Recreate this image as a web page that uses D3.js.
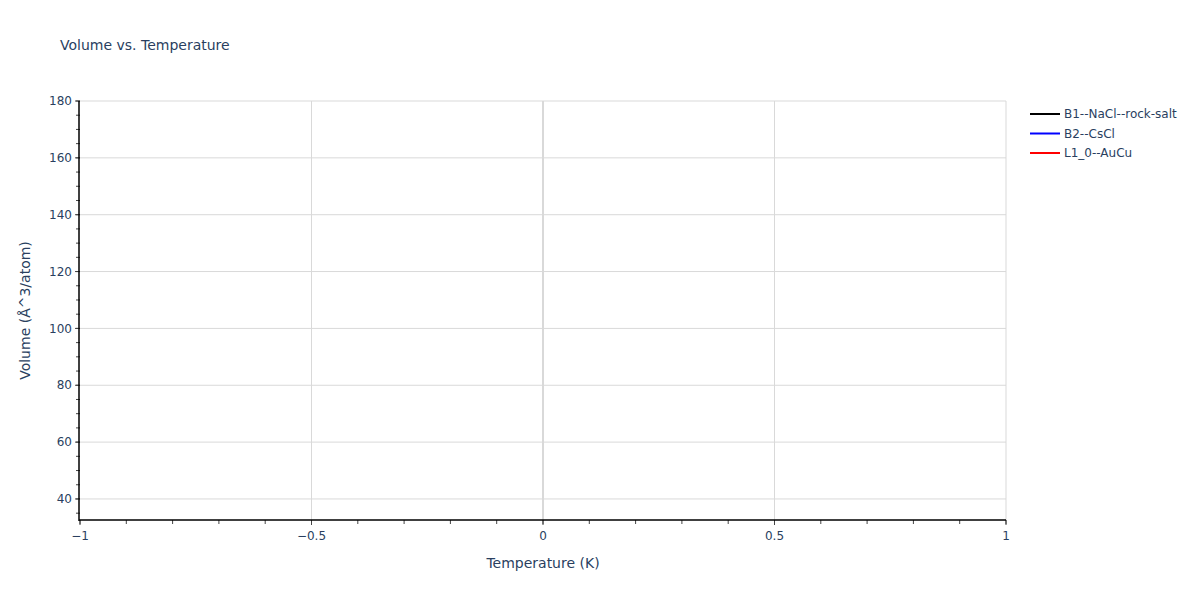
<!DOCTYPE html>
<html>
<head>
<meta charset="utf-8">
<script src="https://cdn.jsdelivr.net/npm/d3@7"></script>
<style>
  body { margin: 0; background: #fff; }
  text { font-family: "DejaVu Sans", verdana, arial, sans-serif; fill: #2a3f5f; }
</style>
</head>
<body>
<div class="chart"></div>
<script>
const svgWidth = 1200
const svgHeight = 600

let margin = { top: 101, right: 194, bottom: 80, left: 80 }
let width = svgWidth - margin.left - margin.right
let height = svgHeight - margin.top - margin.bottom

// series (no data points in the reference)
const seriesNames = ["B1--NaCl--rock-salt", "B2--CsCl", "L1_0--AuCu"]
const seriesColors = ["#000000", "#0000ff", "#ff0000"]
const temperatures = [[], [], []]
const volumes = [[], [], []]

const xDomain = [-1, 1]
const yDomain = [32.6, 180]
const xTicks = [-1, -0.5, 0, 0.5, 1]
const yTicks = [40, 60, 80, 100, 120, 140, 160, 180]

let svg = d3.select(".chart").append("svg")
  .attr("width", svgWidth)
  .attr("height", svgHeight)

let chartGroup = svg.append("g")
  .attr("transform", `translate(${margin.left}, ${margin.top})`)

let x = d3.scaleLinear().domain(xDomain).range([0, width])
let y = d3.scaleLinear().domain(yDomain).range([height, 0])

// grid
chartGroup.append("g").selectAll("line")
  .data(yTicks).enter().append("line")
  .attr("x1", 0).attr("x2", width)
  .attr("y1", d => y(d)).attr("y2", d => y(d))
  .attr("stroke", "#d9d9d9").attr("stroke-width", 1)

chartGroup.append("g").selectAll("line")
  .data(xTicks.filter(d => d !== -1)).enter().append("line")
  .attr("y1", 0).attr("y2", height)
  .attr("x1", d => x(d)).attr("x2", d => x(d))
  .attr("stroke", "#d9d9d9")
  .attr("stroke-width", d => d === 0 ? 2 : 1)

// lines
let line = d3.line().x(d => x(d[0])).y(d => y(d[1]))
seriesNames.forEach((name, i) => {
  let pts = temperatures[i].map((t, j) => [t, volumes[i][j]])
  chartGroup.append("path")
    .datum(pts)
    .attr("d", line)
    .attr("fill", "none")
    .attr("stroke", seriesColors[i])
    .attr("stroke-width", 2)
})

// x axis
let xMinor = d3.range(-10, 11).map(d => d / 10)
let xAxis = chartGroup.append("g").attr("transform", `translate(0, ${height})`)
xAxis.selectAll("line.minor").data(xMinor).enter().append("line")
  .attr("x1", d => x(d)).attr("x2", d => x(d))
  .attr("y1", 0).attr("y2", 4)
  .attr("stroke", "#444")
xAxis.selectAll("line.major").data(xTicks).enter().append("line")
  .attr("x1", d => x(d)).attr("x2", d => x(d))
  .attr("y1", 0).attr("y2", 5)
  .attr("stroke", "#444")
xAxis.selectAll("text").data(xTicks).enter().append("text")
  .attr("x", d => x(d)).attr("y", 20)
  .attr("text-anchor", "middle")
  .style("font-size", "12px")
  .text(d => d3.format("")(d).replace("-", "\u2212"))
xAxis.append("line")
  .attr("x1", -1).attr("x2", width).attr("stroke", "#000").attr("stroke-width", 1.5)

// y axis
let yMinor = d3.range(35, 181, 5)
let yAxis = chartGroup.append("g")
yAxis.selectAll("line.minor").data(yMinor).enter().append("line")
  .attr("x1", -4).attr("x2", 0)
  .attr("y1", d => y(d)).attr("y2", d => y(d))
  .attr("stroke", "#444")
yAxis.selectAll("line.major").data(yTicks).enter().append("line")
  .attr("x1", -5).attr("x2", 0)
  .attr("y1", d => y(d)).attr("y2", d => y(d))
  .attr("stroke", "#444")
yAxis.selectAll("text").data(yTicks).enter().append("text")
  .attr("x", -8).attr("y", d => y(d)).attr("dy", "0.35em")
  .attr("text-anchor", "end")
  .style("font-size", "12px")
  .text(d => d)
yAxis.append("line")
  .attr("x1", -1).attr("x2", -1).attr("y1", 0).attr("y2", height + 1)
  .attr("stroke", "#000").attr("stroke-width", 1.5)

// titles
svg.append("text").attr("x", 60).attr("y", 50)
  .style("font-size", "14px").text("Volume vs. Temperature")

svg.append("text")
  .attr("x", margin.left + width / 2).attr("y", 568)
  .attr("text-anchor", "middle").style("font-size", "14px")
  .text("Temperature (K)")

svg.append("text")
  .attr("transform", `translate(30, ${margin.top + height / 2}) rotate(-90)`)
  .attr("text-anchor", "middle").style("font-size", "14px")
  .text("Volume (\u00c5^3/atom)")

// legend
let legend = svg.append("g").attr("transform", "translate(1030, 114)")
seriesNames.forEach((name, i) => {
  let g = legend.append("g").attr("transform", `translate(0, ${i * 19.5})`)
  g.append("line").attr("x1", 0).attr("x2", 30)
    .attr("stroke", seriesColors[i]).attr("stroke-width", 2)
  g.append("text").attr("x", 34).attr("dy", "0.35em")
    .style("font-size", "12px").text(name)
})
</script>
</body>
</html>
